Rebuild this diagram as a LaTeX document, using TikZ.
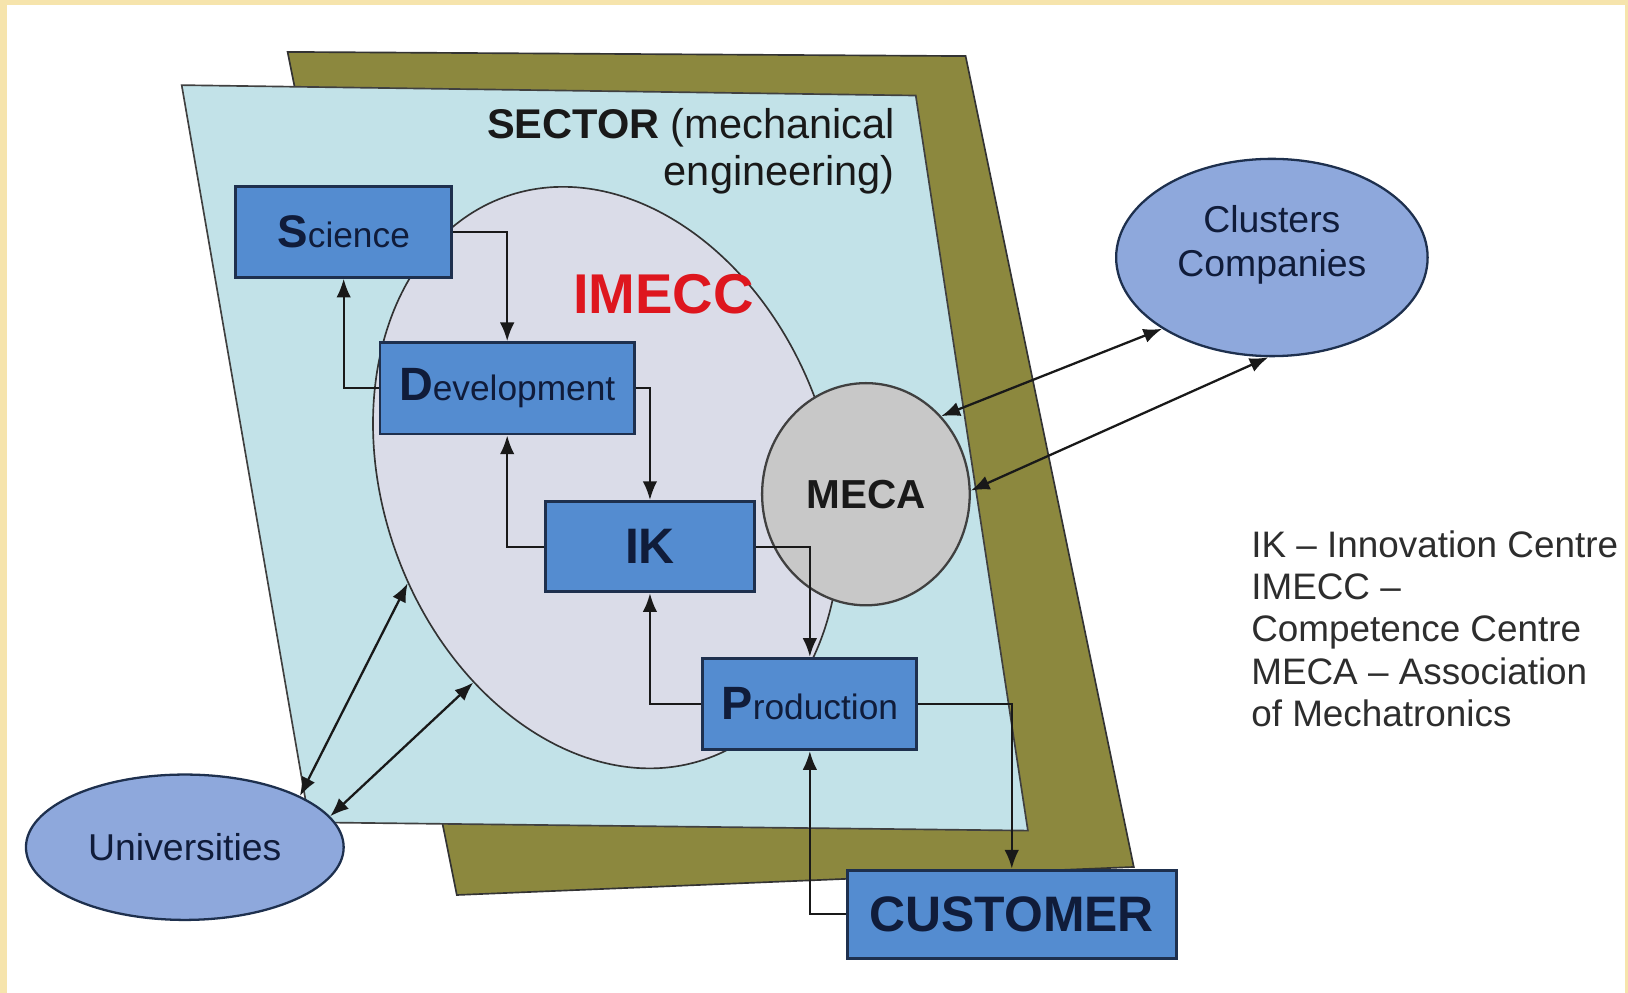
\documentclass[tikz,border=0pt]{standalone}
\usepackage{fontspec}
\setmainfont{Liberation Sans}
\usetikzlibrary{shapes.geometric,arrows.meta}
\definecolor{framecol}{RGB}{246,228,172}
\definecolor{olivecol}{RGB}{140,136,62}
\definecolor{sectorblue}{RGB}{194,226,232}
\definecolor{imeccfill}{RGB}{218,220,232}
\definecolor{boxblue}{RGB}{84,140,208}
\definecolor{boxline}{RGB}{30,48,78}
\definecolor{navytext}{RGB}{16,28,58}
\definecolor{ovalblue}{RGB}{142,168,220}
\definecolor{mecagray}{RGB}{200,200,200}
\definecolor{imeccred}{RGB}{222,22,30}
\definecolor{legendtext}{RGB}{45,45,45}
\begin{document}
\begin{tikzpicture}[x=1pt,y=-1pt,
  boxnode/.style={draw=boxline, line width=2.8pt, fill=boxblue, inner sep=0pt, text=navytext, align=center},
  conn/.style={draw=black!90, line width=2.2pt, -{Latex[length=18pt,width=14pt]}},
  dconn/.style={draw=black!90, line width=2.2pt, {Latex[length=18pt,width=14pt]}-{Latex[length=18pt,width=14pt]}},
  oval/.style={draw=boxline, line width=2.2pt, fill=ovalblue, ellipse, inner sep=0pt, text=navytext, align=center},
]
% background frame
\fill[framecol] (0,0) rectangle (1568,956);
\fill[white] (6.5,4.5) rectangle (1565,956);
\useasboundingbox (0,0) rectangle (1568,956);

% sector planes
\filldraw[fill=olivecol, draw=black!80, line width=1.6pt] (277,50) -- (930,54) -- (1092,835) -- (440,862) -- cycle;
\filldraw[fill=sectorblue, draw=black!75, line width=1.6pt] (175,82) -- (882,92) -- (990,800) -- (298,792) -- cycle;

% IMECC ellipse
\node[ellipse, draw=black!80, line width=1.6pt, fill=imeccfill, minimum width=575pt, minimum height=430pt, rotate=-70, inner sep=0pt] (imecc) at (584,460) {};
\node[text=imeccred, font=\fontsize{54}{54}\selectfont\bfseries] (imecclabel) at (639,283) {IMECC};

% sector label
\node[anchor=north east, inner sep=0pt, align=right, text=black!90, font=\fontsize{40}{45}\selectfont] (sector) at (862,104) {\textbf{SECTOR} (mechanical\\engineering)};

% MECA
\node[ellipse, draw=black!75, line width=2.2pt, fill=mecagray, minimum width=200pt, minimum height=214pt, inner sep=0pt, font=\fontsize{39}{39}\selectfont\bfseries, text=black!90] (meca) at (834,476) {MECA};

% boxes
\node[boxnode, minimum width=208pt, minimum height=87pt] (sci) at (331,223.5) {{\fontsize{44}{44}\selectfont\bfseries S}{\fontsize{34}{34}\selectfont cience}};
\node[boxnode, minimum width=245pt, minimum height=88pt] (dev) at (488.5,374) {{\fontsize{45}{45}\selectfont\bfseries D}{\fontsize{34}{34}\selectfont evelopment}};
\node[boxnode, minimum width=202pt, minimum height=87pt, font=\fontsize{48}{48}\selectfont\bfseries] (ik) at (626,526.5) {IK};
\node[boxnode, minimum width=206pt, minimum height=88pt] (prod) at (780,678) {{\fontsize{45}{45}\selectfont\bfseries P}{\fontsize{34}{34}\selectfont roduction}};

% connectors inside
\draw[conn] (sci.east) -| (dev.north);
\draw[conn] (dev.west) -| (sci.south);
\draw[conn] (dev.east) -| (ik.north);
\draw[conn] (ik.west) -| (dev.south);
\draw[conn] (ik.east) -| (prod.north);
\draw[conn] (prod.west) -| (ik.south);

% customer
\node[boxnode, minimum width=317pt, minimum height=85pt, font=\fontsize{48}{48}\selectfont\bfseries] (cust) at (974.5,880.5) {CUSTOMER};
\draw[conn] (prod.east) -| (cust.north);
\draw[conn] (cust.west) -| (prod.south);

% outer ovals
\node[oval, minimum width=300pt, minimum height=190pt, font=\fontsize{36}{42}\selectfont] (clusters) at (1225,248) {Clusters\\Companies\\[-10pt]\mbox{}};
\node[oval, minimum width=306pt, minimum height=140pt, font=\fontsize{36}{36}\selectfont] (univ) at (178,816) {Universities};

\draw[dconn] (meca.46) -- (clusters.213);
\draw[dconn] (meca.2) -- (clusters.268);
\draw[dconn] (univ.24) -- (imecc.278);
\draw[dconn] (univ.12) -- (imecc.307);

% legend
\node[anchor=north west, inner sep=0pt, align=left, text=legendtext, font=\fontsize{35.5}{40.7}\selectfont] (legend) at (1205,511) {IK -- Innovation Centre\\IMECC --\\Competence Centre\\MECA -- Association\\of Mechatronics};
\end{tikzpicture}
\end{document}
